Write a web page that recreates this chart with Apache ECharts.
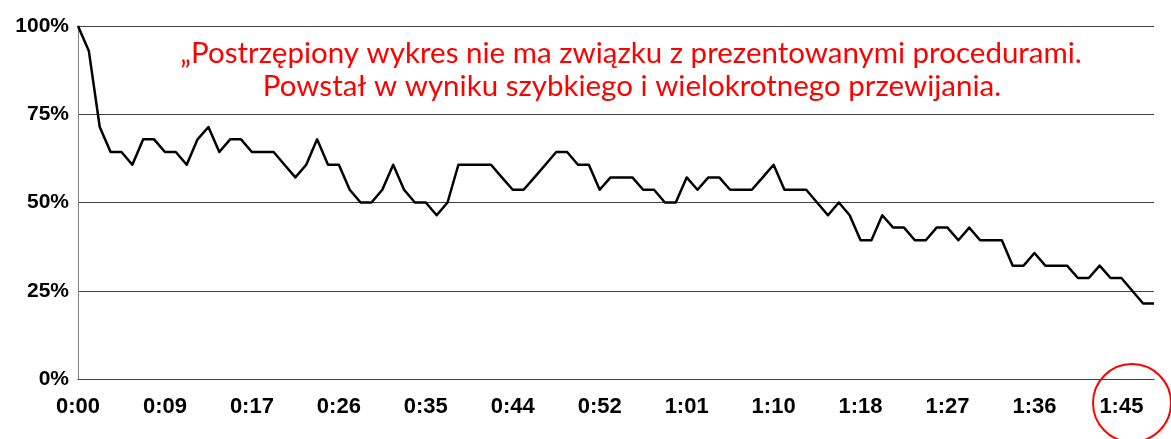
<!DOCTYPE html>
<html>
<head>
<meta charset="utf-8">
<script src="https://cdn.jsdelivr.net/npm/echarts@6/dist/echarts.min.js"></script>
<style>
html,body{margin:0;padding:0;background:#fff;}
#chart{width:1171px;height:439px;}
</style>
</head>
<body>
<div id="chart"></div>
<script>
// Tick labels on the time axis (one every 8 samples)
const timeTicks = ['0:00','0:09','0:17','0:26','0:35','0:44','0:52','1:01','1:10','1:18','1:27','1:36','1:45'];
const tickEvery = 8;
// Y-axis tick values (%)
const yTicks = [0, 25, 50, 75, 100];
// Series values (%), one per sample
const values = [
  100, 92.9, 71.4, 64.3, 64.3, 60.7, 67.9, 67.9, 64.3, 64.3,
  60.7, 67.9, 71.4, 64.3, 67.9, 67.9, 64.3, 64.3, 64.3, 60.7,
  57.1, 60.7, 67.9, 60.7, 60.7, 53.6, 50, 50, 53.6, 60.7,
  53.6, 50, 50, 46.4, 50, 60.7, 60.7, 60.7, 60.7, 57.1,
  53.6, 53.6, 57.1, 60.7, 64.3, 64.3, 60.7, 60.7, 53.6, 57.1,
  57.1, 57.1, 53.6, 53.6, 50, 50, 57.1, 53.6, 57.1, 57.1,
  53.6, 53.6, 53.6, 57.1, 60.7, 53.6, 53.6, 53.6, 50, 46.4,
  50, 46.4, 39.3, 39.3, 46.4, 42.9, 42.9, 39.3, 39.3, 42.9,
  42.9, 39.3, 42.9, 39.3, 39.3, 39.3, 32.1, 32.1, 35.7, 32.1,
  32.1, 32.1, 28.6, 28.6, 32.1, 28.6, 28.6, 25, 21.4, 21.4
];
const noteLines = [
  '\u201ePostrzępiony wykres nie ma związku z prezentowanymi procedurami.',
  'Powstał w wyniku szybkiego i wielokrotnego przewijania.'
];

const chart = echarts.init(document.getElementById('chart'), null, {renderer: 'canvas'});
const seriesData = values.map((v, i) => [i, v]);

chart.setOption({
  animation: false,
  backgroundColor: '#ffffff',
  grid: {left: 78, right: 17, top: 26, bottom: 60, containLabel: false},
  xAxis: {
    type: 'value',
    min: 0,
    max: values.length - 1,
    interval: tickEvery,
    axisLine: {show: true, lineStyle: {color: '#404040', width: 1}},
    axisTick: {show: false},
    splitLine: {show: false},
    axisLabel: {
      show: true,
      margin: 17,
      color: '#000',
      fontFamily: 'Liberation Sans, Arial, sans-serif',
      fontWeight: 'bold',
      fontSize: 22,
      showMaxLabel: false,
      formatter: function (v) {
        if (v % tickEvery !== 0) return '';
        const k = v / tickEvery;
        return timeTicks[k] !== undefined ? timeTicks[k] : '';
      }
    }
  },
  yAxis: {
    type: 'value',
    min: yTicks[0],
    max: yTicks[yTicks.length - 1],
    interval: 25,
    axisLine: {show: true, lineStyle: {color: '#808080', width: 1}},
    axisTick: {show: false},
    splitLine: {show: true, lineStyle: {color: '#404040', width: 1}},
    axisLabel: {
      margin: 9,
      color: '#000',
      fontFamily: 'Liberation Sans, Arial, sans-serif',
      fontWeight: 'bold',
      fontSize: 21,
      formatter: '{value}%'
    }
  },
  series: [{
    type: 'line',
    data: seriesData,
    symbol: 'none',
    lineStyle: {color: '#000', width: 2.5, join: 'round'},
    z: 5
  }],
  graphic: [
    {
      type: 'text',
      x: 631, y: 53,
      style: {
        text: noteLines[0],
        fill: '#ff0000',
        font: '29.5px Lato, "Noto Sans", sans-serif',
        textAlign: 'center',
        textVerticalAlign: 'middle'
      },
      z: 10
    },
    {
      type: 'text',
      x: 632, y: 86,
      style: {
        text: noteLines[1],
        fill: '#ff0000',
        font: '29.5px Lato, "Noto Sans", sans-serif',
        textAlign: 'center',
        textVerticalAlign: 'middle'
      },
      z: 10
    },
    {
      type: 'circle',
      shape: {cx: 1132, cy: 403, r: 39},
      style: {fill: 'none', stroke: '#ff0000', lineWidth: 2},
      z: 10
    }
  ]
});
</script>
</body>
</html>
